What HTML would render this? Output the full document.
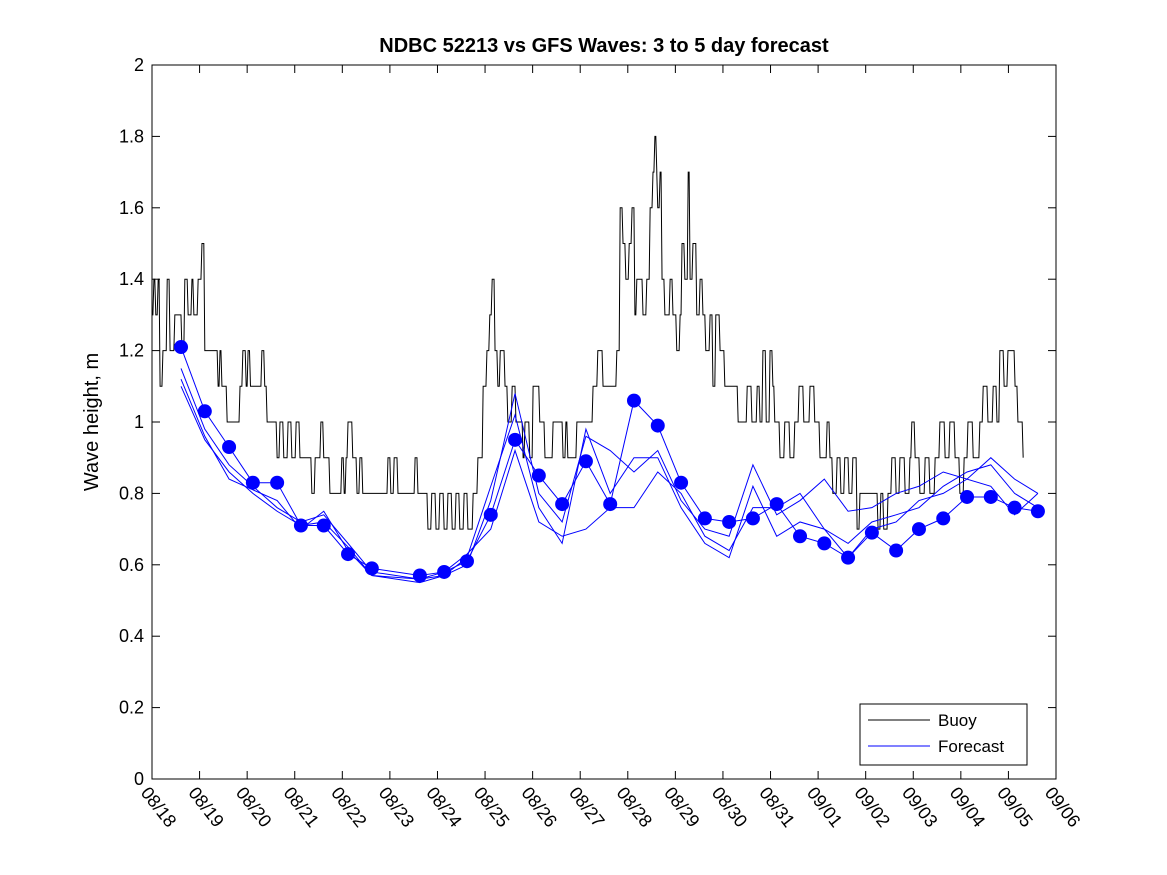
<!DOCTYPE html>
<html><head><meta charset="utf-8"><style>
body{margin:0;background:#fff;}
svg{display:block;font-family:"Liberation Sans","DejaVu Sans",sans-serif;}
</style></head><body>
<svg id="chart" width="1167" height="875" viewBox="0 0 1167 875" xmlns="http://www.w3.org/2000/svg">
<rect width="1167" height="875" fill="#fff"/>
<text x="604" y="52" text-anchor="middle" font-size="20" font-weight="bold">NDBC 52213 vs GFS Waves: 3 to 5 day forecast</text>
<text transform="translate(98,422) rotate(-90)" text-anchor="middle" font-size="20">Wave height, m</text>
<g id="axes"></g>
<g id="plot"></g>
<g>
<rect x="860" y="704" width="167" height="61" fill="#fff" stroke="#000" stroke-width="1"/>
<line x1="868" y1="720" x2="930" y2="720" stroke="#000"/>
<text x="938" y="726" font-size="17">Buoy</text>
<line x1="868" y1="746" x2="930" y2="746" stroke="#0000ff"/>
<text x="938" y="752" font-size="17">Forecast</text>
</g>
</svg>
<script>
const xTickLabels=["08/18","08/19","08/20","08/21","08/22","08/23","08/24","08/25","08/26","08/27","08/28","08/29","08/30","08/31","09/01","09/02","09/03","09/04","09/05","09/06"];
const yTicks=[0,0.2,0.4,0.6,0.8,1,1.2,1.4,1.6,1.8,2];
// days since 08/18
const buoyDays=[
0,0.04,0.08,0.13,0.17,0.23,0.32,0.38,0.48,0.63,
0.69,0.76,0.84,0.88,0.97,1.05,1.11,1.39,1.43,1.47,
1.58,1.85,1.91,1.98,2.02,2.07,2.31,2.37,2.42,2.63,
2.69,2.77,2.86,2.94,3.03,3.11,3.36,3.43,3.55,3.61,
3.74,3.99,4.04,4.08,4.12,4.22,4.31,4.37,4.43,4.96,
5.02,5.09,5.17,5.53,5.59,5.80,5.88,5.97,6.05,6.14,
6.22,6.31,6.39,6.47,6.56,6.64,6.75,6.85,6.96,7.04,
7.10,7.15,7.21,7.27,7.32,7.42,7.48,7.57,7.65,7.80,
7.84,7.94,8.01,8.15,8.26,8.43,8.64,8.70,8.74,8.93,
9.27,9.37,9.48,9.77,9.84,9.90,9.96,10.03,10.09,10.15,
10.19,10.32,10.40,10.47,10.53,10.57,10.61,10.63,10.68,10.72,
10.78,10.89,10.95,11.03,11.10,11.14,11.20,11.27,11.31,11.37,
11.45,11.52,11.58,11.64,11.73,11.79,11.85,11.94,12.04,12.32,
12.51,12.61,12.72,12.78,12.84,12.91,12.99,13.05,13.09,13.20,
13.30,13.41,13.51,13.60,13.70,13.83,13.93,14.04,14.19,14.25,
14.31,14.40,14.48,14.56,14.65,14.73,14.82,14.88,15.26,15.32,
15.38,15.47,15.55,15.64,15.72,15.83,15.93,15.97,16.04,16.14,
16.25,16.35,16.46,16.56,16.67,16.77,16.88,16.98,17.07,17.15,
17.26,17.40,17.47,17.57,17.68,17.76,17.82,17.91,17.99,18.14,
18.20,18.31];
const buoyVals=[
1.3,1.4,1.3,1.4,1.1,1.2,1.4,1.2,1.3,1.2,
1.4,1.3,1.4,1.3,1.4,1.5,1.2,1.1,1.2,1.1,
1.0,1.1,1.2,1.1,1.2,1.1,1.2,1.1,1.0,0.9,
1.0,0.9,1.0,0.9,1.0,0.9,0.8,0.9,1.0,0.9,
0.8,0.9,0.8,0.9,1.0,0.9,0.8,0.9,0.8,0.9,
0.8,0.9,0.8,0.9,0.8,0.7,0.8,0.7,0.8,0.7,
0.8,0.7,0.8,0.7,0.8,0.7,0.8,0.9,1.1,1.2,
1.3,1.4,1.2,1.1,1.2,1.1,1.0,1.1,1.0,0.9,
1.0,0.9,1.1,1.0,0.9,1.0,0.9,1.0,0.9,1.0,
1.1,1.2,1.1,1.2,1.6,1.5,1.4,1.5,1.6,1.3,
1.4,1.3,1.4,1.6,1.7,1.8,1.7,1.6,1.7,1.4,
1.3,1.4,1.3,1.2,1.3,1.5,1.4,1.7,1.4,1.5,
1.3,1.4,1.3,1.2,1.3,1.1,1.3,1.2,1.1,1.0,
1.1,1.0,1.1,1.0,1.2,1.0,1.2,1.1,1.0,0.9,
1.0,0.9,1.0,1.1,1.0,1.1,1.0,0.9,1.0,0.9,
0.8,0.9,0.8,0.9,0.8,0.9,0.7,0.8,0.7,0.8,
0.7,0.8,0.9,0.8,0.9,0.8,0.9,1.0,0.9,0.8,
0.9,0.8,0.9,1.0,0.9,1.0,0.9,0.8,0.9,1.0,
0.9,1.0,1.1,1.0,1.1,1.0,1.2,1.1,1.2,1.1,
1.0,0.9];
const dotDays=[0.61,1.11,1.62,2.12,2.63,3.13,3.61,4.12,4.62,5.63,6.14,6.62,7.12,7.63,8.13,8.62,9.12,9.63,10.13,10.63,11.12,11.62,12.13,12.63,13.13,13.62,14.13,14.63,15.13,15.64,16.12,16.63,17.13,17.63,18.13,18.62];
const dotVals=[1.21,1.03,0.93,0.83,0.83,0.71,0.71,0.63,0.59,0.57,0.58,0.61,0.74,0.95,0.85,0.77,0.89,0.77,1.06,0.99,0.83,0.73,0.72,0.73,0.77,0.68,0.66,0.62,0.69,0.64,0.70,0.73,0.79,0.79,0.76,0.75];
const fcB=[1.15,0.98,0.88,0.82,0.76,0.72,0.74,0.66,0.58,0.56,0.57,0.60,0.78,1.08,0.80,0.72,0.96,0.92,0.86,0.92,0.78,0.70,0.68,0.88,0.74,0.78,0.84,0.75,0.76,0.80,0.82,0.86,0.84,0.90,0.84,0.80];
const fcC=[1.10,0.95,0.86,0.80,0.75,0.71,0.72,0.65,0.57,0.55,0.57,0.62,0.82,1.02,0.76,0.66,0.98,0.80,0.90,0.90,0.76,0.66,0.62,0.82,0.68,0.72,0.70,0.66,0.72,0.74,0.76,0.82,0.86,0.88,0.80,0.76];
const fcD=[1.12,0.96,0.84,0.81,0.78,0.70,0.75,0.64,0.57,0.56,0.58,0.63,0.70,0.92,0.72,0.68,0.70,0.76,0.76,0.86,0.80,0.68,0.64,0.76,0.76,0.80,0.70,0.62,0.70,0.72,0.78,0.80,0.84,0.82,0.74,0.80];
const NS="http://www.w3.org/2000/svg";
const X0=152,X1=1056,Y0=779,Y1=65;
const NDAYS=xTickLabels.length-1;
const xs=d=>X0+(X1-X0)*d/NDAYS;
const ys=v=>Y0-(Y0-Y1)*v/2;
function mk(t,a,p){const e=document.createElementNS(NS,t);for(const k in a)e.setAttribute(k,a[k]);p.appendChild(e);return e;}
const axes=document.getElementById('axes'),plot=document.getElementById('plot');
const frame=mk('rect',{x:X0,y:Y1,width:X1-X0,height:Y0-Y1,fill:'none',stroke:'#000','stroke-width':1},axes);


yTicks.forEach(v=>{const y=ys(v);
mk('line',{x1:X0,y1:y,x2:X0+8,y2:y,stroke:'#000'},axes);
mk('line',{x1:X1,y1:y,x2:X1-8,y2:y,stroke:'#000'},axes);
const t=mk('text',{x:X0-8,y:y+6,'text-anchor':'end','font-size':18},axes);t.textContent=String(v);

});
xTickLabels.forEach((s,i)=>{const x=xs(i);
mk('line',{x1:x,y1:Y0,x2:x,y2:Y0-8,stroke:'#000'},axes);
mk('line',{x1:x,y1:Y1,x2:x,y2:Y1+8,stroke:'#000'},axes);
const t=mk('text',{transform:`translate(${x-12},${Y0+14}) rotate(52)`,'font-size':18},axes);t.textContent=s;

});
let pts=[];buoyDays.forEach((d,i)=>{if(i>0)pts.push((xs(d)-1)+','+ys(buoyVals[i-1]));pts.push(xs(d)+','+ys(buoyVals[i]));});
const bl=mk('polyline',{points:pts.join(' '),fill:'none',stroke:'#000','stroke-width':1},plot);


[dotVals,fcB,fcC,fcD].forEach(arr=>{const p=arr.map((v,i)=>xs(dotDays[i])+','+ys(v)).join(' ');
const l=mk('polyline',{points:p,fill:'none',stroke:'#0000ff','stroke-width':1},plot);

});
dotDays.forEach((d,i)=>{const c=mk('circle',{cx:xs(d),cy:ys(dotVals[i]),r:7,fill:'#0000ff'},plot);

});
</script>
</body></html>
